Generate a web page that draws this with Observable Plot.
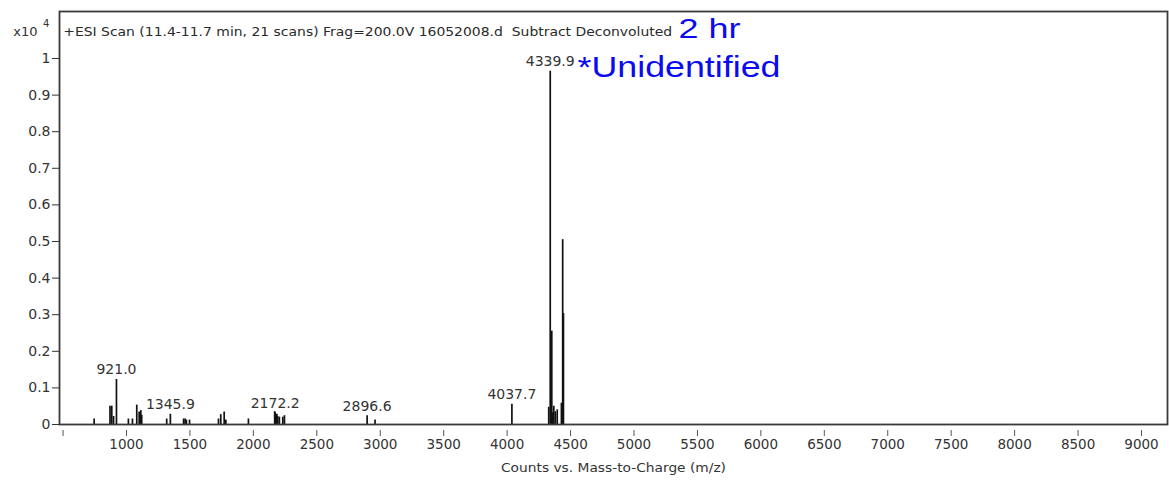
<!DOCTYPE html>
<html>
<head>
<meta charset="utf-8">
<script src="https://cdn.jsdelivr.net/npm/d3@7"></script>
<script src="https://cdn.jsdelivr.net/npm/@observablehq/plot@0.6"></script>
<style>
  html, body { margin: 0; padding: 0; background: #fff; }
  #chart svg { display: block; }
</style>
</head>
<body>
<div id="chart"></div>
<script>
// Deconvoluted mass spectrum (counts x10^4) vs. mass (m/z)
const peakMz = [745, 870, 884, 898, 921.0, 1015, 1047, 1081, 1100, 1113, 1120,
  1317, 1345.9, 1450, 1462, 1472, 1497, 1725, 1743, 1770, 1783, 1961,
  2168, 2172.2, 2185, 2192, 2205, 2232, 2245, 2896.6, 2959, 4037.7,
  4328, 4339.9, 4352, 4360, 4368, 4380, 4395, 4428, 4438, 4444];
const peakIntensity = [0.015, 0.05, 0.05, 0.022, 0.123, 0.015, 0.015, 0.053, 0.034, 0.038, 0.025,
  0.015, 0.028, 0.015, 0.015, 0.012, 0.012, 0.015, 0.027, 0.034, 0.012, 0.015,
  0.035, 0.032, 0.028, 0.022, 0.02, 0.02, 0.024, 0.024, 0.012, 0.055,
  0.047, 0.965, 0.255, 0.032, 0.05, 0.035, 0.04, 0.058, 0.505, 0.303];
const labelMz = [921.0, 1345.9, 2172.2, 2896.6, 4037.7, 4339.9];
const labelText = ["921.0", "1345.9", "2172.2", "2896.6", "4037.7", "4339.9"];
const xTicks = [500, 1000, 1500, 2000, 2500, 3000, 3500, 4000, 4500, 5000, 5500, 6000, 6500, 7000, 7500, 8000, 8500, 9000];
const yTicks = [0, 0.1, 0.2, 0.3, 0.4, 0.5, 0.6, 0.7, 0.8, 0.9, 1];
const titleText = "+ESI Scan (11.4-11.7 min, 21 scans) Frag=200.0V 16052008.d  Subtract Deconvoluted";
const noteTime = "2 hr";
const noteId = "*Unidentified";
const xLabel = "Counts vs. Mass-to-Charge (m/z)";

const peaks = peakMz.map((m, i) => ({mz: m, v: peakIntensity[i]}));
const labels = labelMz.map((m, i) => ({mz: m, v: peakIntensity[peakMz.indexOf(m)], t: labelText[i]}));

const blue = "#0b0bef";
const chart = Plot.plot({
  width: 1169,
  height: 481,
  marginLeft: 59,
  marginRight: 2,
  marginTop: 11,
  marginBottom: 57,
  style: {fontFamily: "DejaVu Sans, sans-serif", fontSize: "13px", color: "#333", background: "#fff", overflow: "visible"},
  x: {domain: [472, 9205]},
  y: {domain: [0, 1.1284]},
  marks: [
    Plot.ruleX(peaks, {x: "mz", y1: 0, y2: "v", stroke: "#111", strokeWidth: 1.7}),
    Plot.frame({stroke: "#3a3a3a", strokeWidth: 1.8}),
    Plot.axisY(yTicks, {tickSize: 7, tickPadding: 2, stroke: "#333", tickFormat: d => d === 0 ? "0" : d === 1 ? "1" : d.toFixed(1), label: null, fontSize: 14, fill: "#333"}),
    Plot.axisX(xTicks, {tickSize: 6, tickPadding: 3, dy: 6, stroke: "#555", tickFormat: d => d === 500 ? "" : String(d), label: null, fontSize: 13.5, fill: "#333"}),
    Plot.text(labels, {x: "mz", y: "v", text: "t", lineAnchor: "bottom", dy: -5, fontSize: 14, fill: "#333"}),
    Plot.text([titleText], {text: d => d, frameAnchor: "top-left", textAnchor: "start", lineAnchor: "bottom", dx: 3.7, dy: 24.7, fontSize: 12.5, fill: "#2a2a2a"}),
    Plot.text(["x10"], {text: d => d, frameAnchor: "top-left", textAnchor: "start", lineAnchor: "bottom", dx: -46.3, dy: 24.7, fontSize: 13, fill: "#333"}),
    Plot.text(["4"], {text: d => d, frameAnchor: "top-left", textAnchor: "start", lineAnchor: "bottom", dx: -16.5, dy: 15.5, fontSize: 10, fill: "#333"}),
    Plot.text([noteTime], {text: d => d, frameAnchor: "top-left", textAnchor: "start", lineAnchor: "bottom", dx: 619, dy: 26.3, fontSize: 28, fontFamily: "Liberation Sans, Arial, sans-serif", fill: blue}),
    Plot.text([noteId], {text: d => d, frameAnchor: "top-left", textAnchor: "start", lineAnchor: "bottom", dx: 518, dy: 65, fontSize: 29, fontFamily: "Liberation Sans, Arial, sans-serif", fill: blue}),
    Plot.text([xLabel], {text: d => d, frameAnchor: "bottom", lineAnchor: "middle", dy: 43, fontSize: 12.5, fill: "#333"})
  ]
});

// stretch a few annotation texts to the measured widths
const widths = new Map([[titleText, 609], [noteTime, 62], [noteId, 203], [xLabel, 225]]);
chart.querySelectorAll("text").forEach(t => {
  const w = widths.get(t.textContent);
  if (w) { t.setAttribute("textLength", w); t.setAttribute("lengthAdjust", "spacingAndGlyphs"); }
});
document.getElementById("chart").appendChild(chart);
</script>
</body>
</html>
